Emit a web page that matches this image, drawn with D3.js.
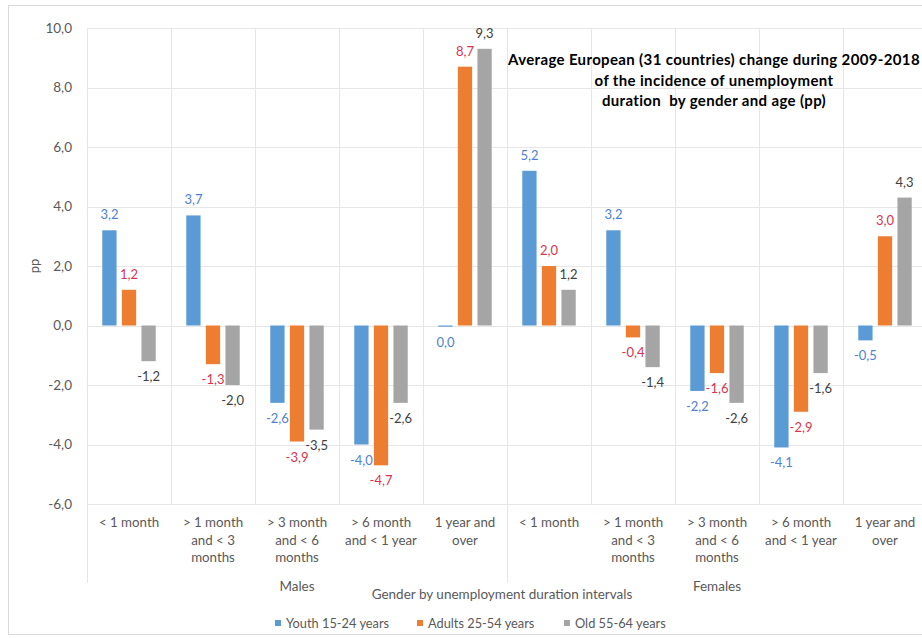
<!DOCTYPE html>
<html>
<head>
<meta charset="utf-8">
<script src="https://cdn.jsdelivr.net/npm/d3@7"></script>
<style>
  html, body { margin: 0; padding: 0; background: #fff; }
  svg { display: block; }
  text { font-family: Lato, "Open Sans", sans-serif; }
</style>
</head>
<body>
<svg id="chart" width="922" height="638"></svg>
<script>
// ---- data ----
const categories = [
  "M <1", "M 1-3", "M 3-6", "M 6-12", "M 12+",
  "F <1", "F 1-3", "F 3-6", "F 6-12", "F 12+"
];
const categoryLabels = [
  ["< 1 month"], ["> 1 month", "and < 3", "months"], ["> 3 month", "and < 6", "months"],
  ["> 6 month", "and < 1 year"], ["1 year and", "over"],
  ["< 1 month"], ["> 1 month", "and < 3", "months"], ["> 3 month", "and < 6", "months"],
  ["> 6 month", "and < 1 year"], ["1 year and", "over"]
];
const groups = ["Males", "Females"];
const seriesNames = ["Youth 15-24 years", "Adults 25-54 years", "Old 55-64 years"];
const youth  = [3.2, 3.7, -2.6, -4.0, -0.04, 5.2, 3.2, -2.2, -4.1, -0.5];
const adults = [1.2, -1.3, -3.9, -4.7, 8.7, 2.0, -0.4, -1.6, -2.9, 3.0];
const old    = [-1.2, -2.0, -3.5, -2.6, 9.3, 1.2, -1.4, -2.6, -1.6, 4.3];
const yTicks = [-6, -4, -2, 0, 2, 4, 6, 8, 10];
const titleLines = [
  "Average European (31 countries) change during 2009-2018",
  "of the incidence of unemployment",
  "duration  by gender and age (pp)"
];
const yAxisTitle = "pp";
const xAxisTitle = "Gender by unemployment duration intervals";

const seriesValues = [youth, adults, old];
const barColors = ["#5B9BD5", "#ED7D31", "#A5A5A5"];
const labelColors = ["#4F81D0", "#D9344F", "#404040"];

(function () {
// ---- layout ----
const svg = d3.select("#chart");
const pLeft = 87, pRight = 927, pTop = 28, pBottom = 504;

svg.append("rect").attr("x", 8.5).attr("y", 5.5).attr("width", 930).attr("height", 629)
  .attr("fill", "#fff").attr("stroke", "#d9d9d9").attr("stroke-width", 1);

const y = d3.scaleLinear().domain([-6, 10]).range([pBottom, pTop]);
const x0 = d3.scaleBand().domain(categories).range([pLeft, pRight]).padding(0);
const x1 = d3.scaleBand().domain(d3.range(3)).range([0, x0.bandwidth()])
  .paddingInner(0.27).paddingOuter(0.78);

const fmt = v => (Math.abs(v) < 0.05 ? "0.0" : d3.format(".1f")(v))
  .replace(".", ",").replace("−", "-");

// horizontal gridlines
svg.append("g").selectAll("line").data(yTicks).join("line")
  .attr("x1", pLeft).attr("x2", pRight)
  .attr("y1", d => Math.round(y(d)) + 0.5).attr("y2", d => Math.round(y(d)) + 0.5)
  .attr("stroke", "#e6e6e6").attr("stroke-width", 1);

// vertical gridlines (category boundaries)
const bounds = categories.map(c => x0(c)).concat([pRight]);
svg.append("g").selectAll("line").data(bounds).join("line")
  .attr("x1", d => Math.round(d) + 0.5).attr("x2", d => Math.round(d) + 0.5)
  .attr("y1", pTop)
  .attr("y2", (d, i) => (i % 5 === 0) ? 583 : pBottom)
  .attr("stroke", "#e6e6e6").attr("stroke-width", 1);

// y axis labels
const yAxis = d3.axisLeft(y).tickValues(yTicks).tickSize(0).tickPadding(0).tickFormat(fmt);
const gy = svg.append("g").attr("transform", `translate(${72},0)`).call(yAxis);
gy.select(".domain").remove();
gy.selectAll("text").attr("fill", "#595959").style("font-size", "13.5px")
  .style("font-family", "Lato, sans-serif");

// y axis title
svg.append("text").attr("transform", "translate(39,266) rotate(-90)")
  .attr("text-anchor", "middle").attr("fill", "#595959")
  .style("font-size", "13px").text(yAxisTitle);

// bars
seriesValues.forEach((vals, s) => {
  const g = svg.append("g");
  g.selectAll("rect").data(vals).join("rect")
    .attr("x", (d, i) => x0(categories[i]) + x1(s))
    .attr("width", x1.bandwidth())
    .attr("y", d => y(Math.max(0, d)))
    .attr("height", d => Math.abs(y(d) - y(0)))
    .attr("fill", barColors[s]);
  g.selectAll("text").data(vals).join("text")
    .attr("x", (d, i) => x0(categories[i]) + x1(s) + x1.bandwidth() / 2)
    .attr("y", d => d >= 0 ? y(d) - 11 : y(d) + 20)
    .attr("text-anchor", "middle")
    .attr("fill", labelColors[s])
    .style("font-size", "13px")
    .text(d => fmt(d));
});

// category labels
const xg = svg.append("g");
categories.forEach((c, i) => {
  const cx = x0(c) + x0.bandwidth() / 2;
  const t = xg.append("text")
    .attr("x", cx).attr("y", 527)
    .attr("text-anchor", "middle").attr("fill", "#595959")
    .style("font-size", "13.3px");
  categoryLabels[i].forEach((line, k) => {
    t.append("tspan").attr("x", cx).attr("dy", k === 0 ? 0 : 17.5).text(line);
  });
});

// group labels
groups.forEach((g, i) => {
  const c0 = categories[i * 5], c1 = categories[i * 5 + 4];
  svg.append("text").attr("x", (x0(c0) + x0(c1) + x0.bandwidth()) / 2).attr("y", 591)
    .attr("text-anchor", "middle").attr("fill", "#595959")
    .style("font-size", "13.5px").text(g);
});

// x axis title
svg.append("text").attr("x", (pLeft + pRight) / 2 - 5).attr("y", 599)
  .attr("text-anchor", "middle").attr("fill", "#595959")
  .style("font-size", "13.5px").text(xAxisTitle);

// title
const tt = svg.append("text").attr("text-anchor", "middle").attr("fill", "#000")
  .style("font-size", "15px").style("font-weight", "bold")
  .style("letter-spacing", "0.35px").style("white-space", "pre");
titleLines.forEach((line, k) => {
  tt.append("tspan").attr("x", 714).attr("y", 65 + k * 20.5).text(line);
});

// legend
const legendX = [275, 417, 564];
const lg = svg.append("g");
seriesNames.forEach((n, i) => {
  lg.append("rect").attr("x", legendX[i]).attr("y", 620).attr("width", 6).attr("height", 6)
    .attr("fill", barColors[i]);
  lg.append("text").attr("x", legendX[i] + 11).attr("y", 627.5)
    .attr("fill", "#595959").style("font-size", "12.8px").text(n);
});
})();
</script>
</body>
</html>
